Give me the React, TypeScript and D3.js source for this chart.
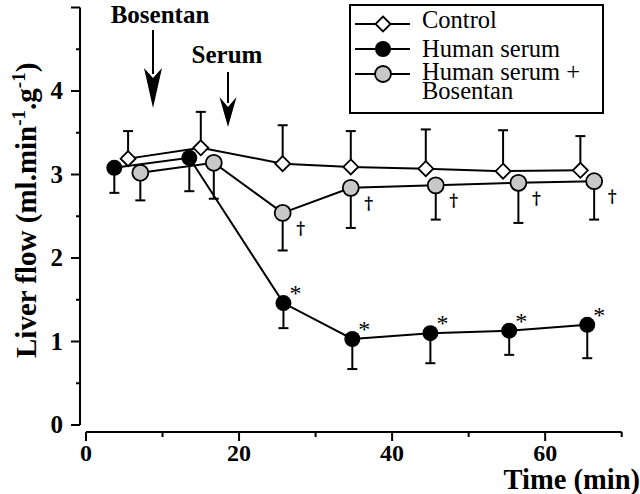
import React from "react";
import * as d3 from "d3";

const controlTime = [5.5, 15.0, 25.7, 34.6, 44.4, 54.5, 64.6];
const controlValue = [3.19, 3.32, 3.13, 3.09, 3.07, 3.04, 3.05];
const controlErrTop = [3.52, 3.75, 3.59, 3.52, 3.54, 3.53, 3.46];

const serumTime = [3.7, 13.5, 25.8, 34.8, 45.0, 55.3, 65.5];
const serumValue = [3.08, 3.2, 1.46, 1.03, 1.1, 1.13, 1.2];
const serumErrBottom = [2.78, 2.8, 1.16, 0.67, 0.74, 0.84, 0.8];
const serumStar = [false, false, true, true, true, true, true];

const bosTime = [7.1, 16.7, 25.7, 34.6, 45.7, 56.5, 66.4];
const bosValue = [3.02, 3.14, 2.54, 2.84, 2.87, 2.9, 2.92];
const bosErrBottom = [2.69, 2.71, 2.09, 2.36, 2.46, 2.42, 2.46];
const bosDagger = [false, false, true, true, true, true, true];

const xTicks = [0, 10, 20, 30, 40, 50, 60, 70];
const xLabels = [0, 20, 40, 60];
const yTicks = [0, 0.5, 1, 1.5, 2, 2.5, 3, 3.5, 4, 4.5, 5];
const yLabels = [0, 1, 2, 3, 4];

const legendItems = ["Control", "Human serum", "Human serum +"];

const SERIF = "'Liberation Serif', 'Times New Roman', Times, serif";

export default function App() {
  const x = d3.scaleLinear().domain([0, 70]).range([86, 621.7]);
  const y = d3.scaleLinear().domain([0, 5]).range([425, 7.5]);
  const line = d3.line<[number, number]>().x((d) => x(d[0])).y((d) => y(d[1]));
  const zip = (t: number[], v: number[]) => t.map((tt, i) => [tt, v[i]] as [number, number]);

  const R = 8;
  const diamond = (cx: number, cy: number, s = 7.5) =>
    `M${cx},${cy - s}L${cx + s},${cy}L${cx},${cy + s}L${cx - s},${cy}Z`;

  const errBar = (t: number, v: number, e: number, key: string) => (
    <g key={key} stroke="#000" strokeWidth={2}>
      <line x1={x(t)} x2={x(t)} y1={y(v)} y2={y(e)} />
      <line x1={x(t) - 5} x2={x(t) + 5} y1={y(e)} y2={y(e)} />
    </g>
  );

  const arrow = (ax: number, y0: number, y1: number, headLen: number, halfW: number) => (
    <g>
      <line x1={ax} x2={ax} y1={y0} y2={y1 - headLen + 6} stroke="#000" strokeWidth={2} />
      <path
        d={`M${ax},${y1}L${ax - halfW},${y1 - headLen}L${ax},${y1 - headLen + 10}L${ax + halfW},${y1 - headLen}Z`}
        fill="#000"
      />
    </g>
  );

  return (
    <svg width={640} height={494} style={{ position: "absolute", left: 0, top: 0, background: "#fff" }}>
      <rect width={640} height={494} fill="#fff" />
      {/* Y axis */}
      <g stroke="#000" strokeWidth={2}>
        <line x1={80} x2={80} y1={y(5)} y2={y(0)} />
        {yTicks.map((t) => (
          <line key={t} x1={Number.isInteger(t) ? 71 : 76} x2={80} y1={y(t)} y2={y(t)} />
        ))}
      </g>
      {yLabels.map((t) => (
        <text key={t} x={63} y={y(t) + 8} textAnchor="end" fontFamily={SERIF} fontWeight="bold" fontSize={25}>
          {t}
        </text>
      ))}
      {/* X axis */}
      <g stroke="#000" strokeWidth={2}>
        <line x1={x(0)} x2={x(70)} y1={432} y2={432} />
        {xTicks.map((t) => (
          <line key={t} x1={x(t)} x2={x(t)} y1={432} y2={t % 20 === 0 ? 441 : 437} />
        ))}
      </g>
      {xLabels.map((t) => (
        <text key={t} x={x(t)} y={461} textAnchor="middle" fontFamily={SERIF} fontWeight="bold" fontSize={24}>
          {t}
        </text>
      ))}
      <text x={640} y={489} textAnchor="end" fontFamily={SERIF} fontWeight="bold" fontSize={28.5}>
        Time (min)
      </text>
      <text
        transform="translate(36,358) rotate(-90)"
        fontFamily={SERIF}
        fontWeight="bold"
        fontSize={29}
      >
        Liver flow (ml.min
        <tspan fontSize={19} dy={-11}>-1</tspan>
        <tspan dy={11}>.g</tspan>
        <tspan fontSize={19} dy={-11}>-1</tspan>
        <tspan dy={11}>)</tspan>
      </text>

      {/* Annotations */}
      <text x={160} y={23} textAnchor="middle" fontFamily={SERIF} fontWeight="bold" fontSize={25}>
        Bosentan
      </text>
      {arrow(153, 30, 108, 40, 9)}
      <text x={227} y={63} textAnchor="middle" fontFamily={SERIF} fontWeight="bold" fontSize={25}>
        Serum
      </text>
      {arrow(228, 72, 127, 30, 8.5)}

      {/* Error bars */}
      {controlTime.map((t, i) => errBar(t, controlValue[i], controlErrTop[i], "c" + i))}
      {serumTime.map((t, i) => errBar(t, serumValue[i], serumErrBottom[i], "s" + i))}
      {bosTime.map((t, i) => errBar(t, bosValue[i], bosErrBottom[i], "b" + i))}

      {/* Lines */}
      <path d={line(zip(serumTime, serumValue)) || ""} fill="none" stroke="#000" strokeWidth={2} />
      <path d={line(zip(bosTime, bosValue)) || ""} fill="none" stroke="#000" strokeWidth={2} />
      <path d={line(zip(controlTime, controlValue)) || ""} fill="none" stroke="#000" strokeWidth={2} />

      {/* Markers */}
      {serumTime.map((t, i) => (
        <circle key={"sm" + i} cx={x(t)} cy={y(serumValue[i])} r={R} fill="#000" />
      ))}
      {bosTime.map((t, i) => (
        <circle key={"bm" + i} cx={x(t)} cy={y(bosValue[i])} r={R} fill="#c8c8c8" stroke="#000" strokeWidth={1.8} />
      ))}
      {controlTime.map((t, i) => (
        <path key={"cm" + i} d={diamond(x(t), y(controlValue[i]))} fill="#fff" stroke="#000" strokeWidth={1.8} />
      ))}

      {/* Significance marks */}
      {serumTime.map((t, i) =>
        serumStar[i] ? (
          <text key={"st" + i} x={x(t) + 12} y={y(serumValue[i]) - 2} textAnchor="middle" fontFamily={SERIF} fontSize={24} fill="#000">
            *
          </text>
        ) : null
      )}
      {bosTime.map((t, i) =>
        bosDagger[i] ? (
          <text
            key={"dg" + i}
            x={x(t) + 18}
            y={y(bosValue[i]) + 21}
            textAnchor="middle"
            fontFamily="'DejaVu Serif', serif"
            fontWeight="bold"
            fontSize={17}
            fill="#000"
            style={{ textRendering: "geometricPrecision" }}
          >
            †
          </text>
        ) : null
      )}

      {/* Legend */}
      <rect x={350} y={5} width={253} height={108} fill="#fff" stroke="#000" strokeWidth={2} />
      {legendItems.map((name, i) => {
        const ly = [24, 49, 74][i];
        return (
          <g key={name}>
            <line x1={355} x2={410} y1={ly} y2={ly} stroke="#000" strokeWidth={2} />
            {i === 0 && <path d={diamond(383, ly)} fill="#fff" stroke="#000" strokeWidth={1.8} />}
            {i === 1 && <circle cx={383} cy={ly} r={R} fill="#000" />}
            {i === 2 && <circle cx={383} cy={ly} r={R} fill="#c8c8c8" stroke="#000" strokeWidth={1.8} />}
            <text x={422} y={[28, 57, 80][i]} fontFamily={SERIF} fontSize={24.5}>
              {name}
            </text>
          </g>
        );
      })}
      <text x={422} y={99} fontFamily={SERIF} fontSize={24.5}>
        Bosentan
      </text>
    </svg>
  );
}
